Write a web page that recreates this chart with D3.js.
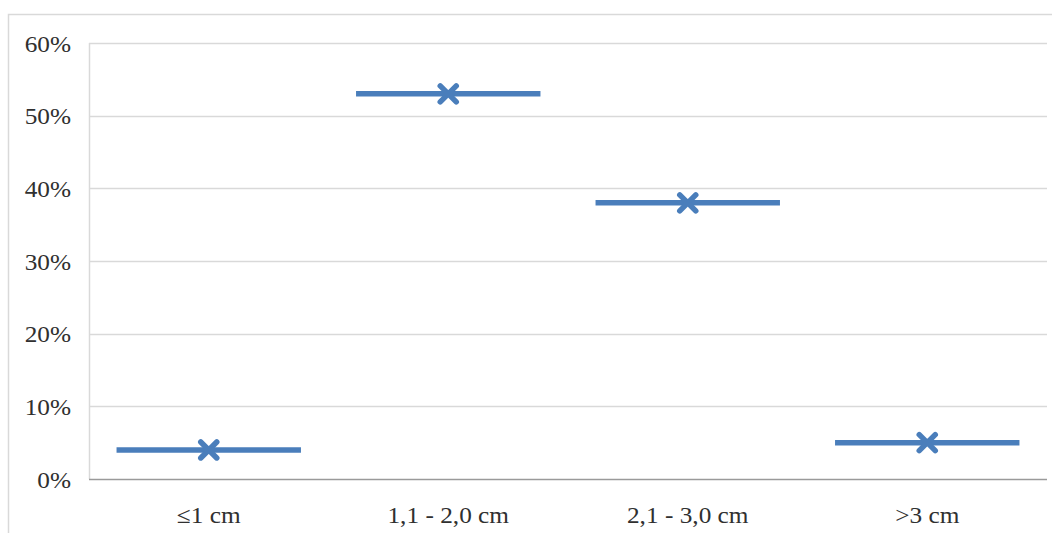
<!DOCTYPE html>
<html><head><meta charset="utf-8">
<script src="https://cdn.jsdelivr.net/npm/d3@7"></script>
<style>html,body{margin:0;padding:0;background:#fff;}svg{display:block;}</style>
</head><body>
<svg id="chart" width="1052" height="533"></svg>
<script>
const categories = ["≤1 cm", "1,1 - 2,0 cm", "2,1 - 3,0 cm", ">3 cm"];
const values = [0.04, 0.53, 0.38, 0.05];
const yTicks = [0, 0.1, 0.2, 0.3, 0.4, 0.5, 0.6];

const svg = d3.select("#chart");
const W = 1052, H = 533;
const m = {left: 89, right: 5, top: 43, bottom: 54};
const x = d3.scaleBand().domain(categories).range([m.left, W - m.right]);
const y = d3.scaleLinear().domain([0, 0.6]).range([H - m.bottom, m.top]);
const FONT = "Liberation Serif, Times New Roman, serif";
const FS = 23;
const STRETCH = 1.1;

// outer frame
svg.append("rect").attr("x", 8.5).attr("y", 14.5).attr("width", 1060).attr("height", 540)
  .attr("fill", "none").attr("stroke", "#d9d9d9").attr("stroke-width", 1.5);

// gridlines
svg.append("g").selectAll("line").data(yTicks.filter(d => d > 0)).join("line")
  .attr("x1", m.left).attr("x2", W - m.right)
  .attr("y1", d => Math.round(y(d)) + 0.5).attr("y2", d => Math.round(y(d)) + 0.5)
  .attr("stroke", "#d9d9d9").attr("stroke-width", 1.5);

// y axis line
svg.append("line").attr("x1", m.left + 0.5).attr("x2", m.left + 0.5)
  .attr("y1", y(0.6)).attr("y2", y(0)).attr("stroke", "#d9d9d9").attr("stroke-width", 1.5);

// baseline
svg.append("line").attr("x1", m.left).attr("x2", W - m.right)
  .attr("y1", Math.round(y(0)) + 0.5).attr("y2", Math.round(y(0)) + 0.5)
  .attr("stroke", "#9a9a9a").attr("stroke-width", 1.5);

function styleText(sel) {
  sel.attr("font-family", FONT).attr("font-size", FS).attr("fill", "#303030");
  sel.each(function() {
    const len = this.getComputedTextLength();
    d3.select(this).attr("textLength", len * STRETCH).attr("lengthAdjust", "spacingAndGlyphs");
  });
}

// y axis labels
const yAxis = d3.axisLeft(y).tickValues(yTicks).tickFormat(d3.format(".0%")).tickSize(0).tickPadding(18);
const ya = svg.append("g").attr("transform", `translate(${m.left},0)`).call(yAxis);
ya.select(".domain").remove();
ya.attr("font-size", FS).attr("font-family", FONT);
ya.selectAll("text").attr("dy", "0.35em").call(styleText);

// x axis labels
const xAxis = d3.axisBottom(x).tickSize(0).tickPadding(28);
const xa = svg.append("g").attr("transform", `translate(0,${y(0)})`).call(xAxis);
xa.select(".domain").remove();
xa.attr("font-size", FS).attr("font-family", FONT);
xa.selectAll("text").call(styleText);

const color = "#4a7ebb";
const data = categories.map((c, i) => ({c, v: values[i]}));
const segHalf = x.bandwidth() * 0.385;

svg.append("g").selectAll("line").data(data).join("line")
  .attr("x1", d => x(d.c) + x.bandwidth() / 2 - segHalf)
  .attr("x2", d => x(d.c) + x.bandwidth() / 2 + segHalf)
  .attr("y1", d => y(d.v)).attr("y2", d => y(d.v))
  .attr("stroke", color).attr("stroke-width", 5.5);

const s = 8;
const mk = svg.append("g").selectAll("g").data(data).join("g")
  .attr("transform", d => `translate(${x(d.c) + x.bandwidth() / 2},${y(d.v)})`);
mk.append("path").attr("d", `M${-s},${-s}L${s},${s}M${-s},${s}L${s},${-s}`)
  .attr("stroke", color).attr("stroke-width", 5.5).attr("stroke-linecap", "round").attr("fill", "none");
</script>
</body></html>
